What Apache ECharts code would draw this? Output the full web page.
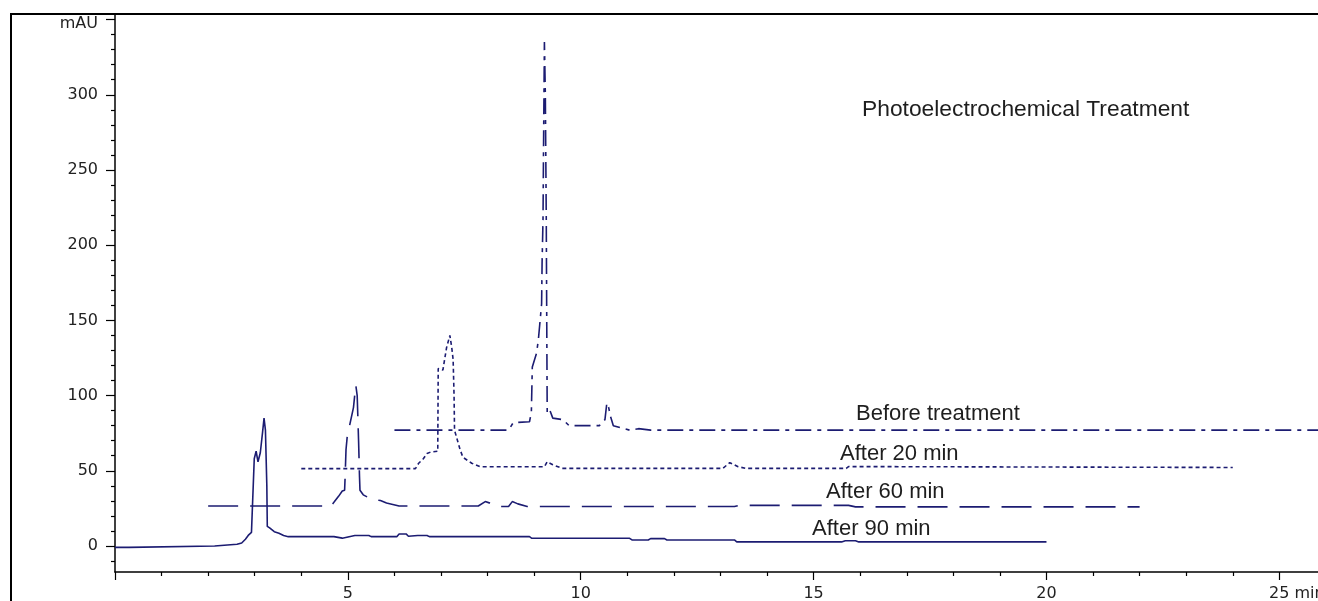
<!DOCTYPE html>
<html>
<head>
<meta charset="utf-8">
<script src="https://cdn.jsdelivr.net/npm/echarts@6/dist/echarts.min.js"></script>
<style>
html, body { margin: 0; padding: 0; background: #fff; overflow: hidden; }
#hplcChart { width: 1318px; height: 601px; }
</style>
</head>
<body>
<div id="hplcChart"></div>
<script>
// chromatogram traces, [time (min), absorbance (mAU)] as plotted (stacked offsets included)
const beforeTreatment = [
  [6, 77], [8.45, 77], [8.55, 82], [8.9, 82.6], [8.94, 89], [8.96, 119], [9.05, 128], [9.09, 137],
  [9.16, 161], [9.17, 188], [9.19, 217], [9.2, 260], [9.22, 335], [9.24, 300], [9.26, 217],
  [9.27, 150], [9.28, 88], [9.34, 90], [9.4, 85], [9.62, 84], [9.75, 80], [10.4, 80], [10.52, 84],
  [10.56, 95], [10.6, 92], [10.64, 86], [10.7, 80], [11.05, 77], [11.24, 78], [11.5, 77], [26, 77]
]
const after20 = [
  [4, 51.4], [6.45, 51.4], [6.52, 55], [6.62, 58], [6.7, 61.5], [6.78, 62.5], [6.93, 63],
  [6.94, 118], [7.04, 117], [7.12, 132], [7.19, 140], [7.23, 132], [7.26, 124], [7.28, 100],
  [7.29, 77], [7.41, 64], [7.47, 59], [7.66, 55], [7.84, 52.7], [9.22, 52.7], [9.28, 56],
  [9.4, 54], [9.6, 51.6], [13.05, 51.6], [13.2, 55.4], [13.38, 52.7], [13.55, 51.6],
  [15.7, 51.6], [15.75, 52.8], [24, 52.2]
]
const after60 = [
  [2, 26.6], [4.55, 26.6], [4.62, 26], [4.7, 29], [4.8, 33], [4.88, 36.5], [4.93, 37], [4.94, 45],
  [4.96, 64], [4.99, 74], [5.03, 79], [5.07, 78], [5.12, 92], [5.17, 107], [5.2, 100], [5.23, 70],
  [5.25, 46], [5.26, 37], [5.33, 34], [5.47, 31.7], [5.55, 30.5], [5.62, 30.6], [5.7, 30.2],
  [5.83, 28.6], [6.1, 26.6], [7.8, 26.6], [7.95, 29.5], [8.05, 28.5], [8.2, 26.2], [8.45, 26.2],
  [8.53, 29.5], [8.65, 28], [8.85, 26.2], [13.3, 26.2], [13.4, 27], [15.75, 27], [15.9, 26], [22, 26]
]
const after90 = [
  [0, -0.9], [0.3, -0.9], [0.32, 0], [2.14, 0], [2.16, 1.1], [2.62, 1.1], [2.72, 2], [2.8, 4.5],
  [2.86, 7], [2.93, 9], [2.97, 9.5], [2.99, 58], [3.03, 63], [3.07, 56], [3.12, 62], [3.17, 76],
  [3.2, 85], [3.23, 77], [3.26, 40], [3.27, 13], [3.32, 12], [3.42, 9.5], [3.52, 8.5], [3.62, 7],
  [3.72, 6.2], [4.7, 6.2], [4.74, 5.2], [4.88, 5.2], [4.92, 6.2], [5.15, 7], [5.45, 7], [5.5, 6.2],
  [6.05, 6.2], [6.1, 8], [6.25, 8], [6.3, 6.5], [6.5, 7], [6.7, 7], [6.75, 6.2], [8.9, 6.2],
  [8.95, 5.1], [11.05, 5.1], [11.1, 4], [11.45, 4], [11.5, 4.9], [11.8, 4.9], [11.85, 4],
  [13.3, 4], [13.35, 2.7], [15.6, 2.7], [15.68, 3.5], [15.9, 3.5], [15.97, 2.7], [20, 2.7]
]

const traceNames = ['Before treatment', 'After 20 min', 'After 60 min', 'After 90 min']
const chartTitle = 'Photoelectrochemical Treatment'

// axis ticks
const xMajorTicks = [0, 5, 10, 15, 20, 25]
const xLabels = [5, 10, 15, 20, 25]
const xMinorTicks = [1, 2, 3, 4, 6, 7, 8, 9, 11, 12, 13, 14, 16, 17, 18, 19, 21, 22, 23, 24]
const yMajorTicks = [0, 50, 100, 150, 200, 250, 300, 350]
const yMinorTicks = [-10, 10, 20, 30, 40, 60, 70, 80, 90, 110, 120, 130, 140, 160, 170, 180, 190,
  210, 220, 230, 240, 260, 270, 280, 290, 310, 320, 330, 340]

const lineColor = '#1c1c72'
const tickFont = 'DejaVu Sans'
const noteFont = '"Liberation Sans", Arial, sans-serif'

const X_MIN = 0, X_MAX = 25.83
const Y_MIN = -17.3, Y_MAX = 353.7

const chart = echarts.init(document.getElementById('hplcChart'))

function trace(name, data, dash) {
  return {
    name: name,
    type: 'line',
    data: data,
    symbol: 'none',
    xAxisIndex: 0,
    yAxisIndex: 0,
    lineStyle: { color: lineColor, width: 1.6, type: dash },
    z: 3
  }
}

function noteText(text, x, y, size) {
  return {
    type: 'text',
    x: x,
    y: y,
    silent: true,
    style: {
      text: text,
      font: size + 'px ' + noteFont,
      fill: '#1e1e1e',
      textVerticalAlign: 'middle',
      verticalAlign: 'middle'
    }
  }
}

const option = {
  animation: false,
  backgroundColor: '#fff',
  grid: { left: 115, right: 0, top: 14, bottom: 29, containLabel: false, outerBoundsMode: 'none' },
  xAxis: [
    {
      type: 'value',
      min: X_MIN,
      max: X_MAX,
      position: 'bottom',
      axisLine: { show: true, onZero: false, lineStyle: { color: '#000', width: 1.5 } },
      axisTick: { show: true, length: 8, customValues: xMajorTicks, lineStyle: { color: '#000', width: 1.2 } },
      axisLabel: {
        show: true,
        customValues: xLabels,
        margin: 14,
        color: '#222',
        fontFamily: tickFont,
        fontSize: 16,
        formatter: v => (v === 25 ? '{p| }25 min' : String(v)),
        rich: { p: { width: 35 } }
      },
      splitLine: { show: false }
    },
    {
      type: 'value',
      min: X_MIN,
      max: X_MAX,
      position: 'bottom',
      axisLine: { show: false, onZero: false },
      axisTick: { show: true, length: 4, customValues: xMinorTicks, lineStyle: { color: '#000', width: 1.2 } },
      axisLabel: { show: false },
      splitLine: { show: false }
    }
  ],
  yAxis: [
    {
      type: 'value',
      min: Y_MIN,
      max: Y_MAX,
      position: 'left',
      axisLine: { show: true, onZero: false, lineStyle: { color: '#000', width: 1.5 } },
      axisTick: { show: true, length: 9, customValues: yMajorTicks, lineStyle: { color: '#000', width: 1.2 } },
      axisLabel: {
        show: true,
        customValues: yMajorTicks,
        margin: 17,
        color: '#222',
        fontFamily: tickFont,
        fontSize: 16,
        formatter: v => (v === 350 ? '{u|mAU}' : String(v)),
        rich: { u: { fontFamily: tickFont, fontSize: 16, color: '#222', padding: [8, 0, 0, 0] } }
      },
      splitLine: { show: false }
    },
    {
      type: 'value',
      min: Y_MIN,
      max: Y_MAX,
      position: 'left',
      axisLine: { show: false, onZero: false },
      axisTick: { show: true, length: 4, customValues: yMinorTicks, lineStyle: { color: '#000', width: 1.2 } },
      axisLabel: { show: false },
      splitLine: { show: false }
    }
  ],
  series: [
    trace(traceNames[0], beforeTreatment, [16, 6, 4, 6]),
    trace(traceNames[1], after20, [4, 3]),
    trace(traceNames[2], after60, [30, 12]),
    trace(traceNames[3], after90, 'solid')
  ],
  graphic: [
    {
      type: 'rect',
      silent: true,
      shape: { x: 11, y: 14, width: 1400, height: 700 },
      style: { fill: 'none', stroke: '#000', lineWidth: 2 }
    },
    noteText(chartTitle, 862, 110, 22.8),
    noteText(traceNames[0], 856, 414, 22),
    noteText(traceNames[1], 840, 454, 22),
    noteText(traceNames[2], 826, 492, 22),
    noteText(traceNames[3], 812, 529, 22)
  ]
}

chart.setOption(option)
</script>
</body>
</html>
